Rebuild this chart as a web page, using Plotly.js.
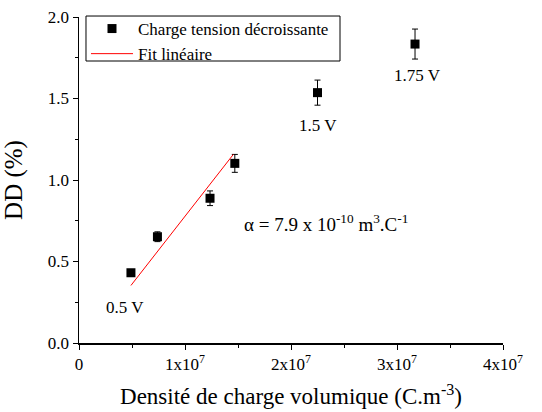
<!DOCTYPE html>
<html>
<head>
<meta charset="utf-8">
<script src="https://cdn.plot.ly/plotly-3.0.1.min.js"></script>
<style>html,body{margin:0;padding:0;background:#fff;}#chart{width:542px;height:412px;}</style>
</head>
<body>
<div id="chart"></div>
<script>
// Data
const densite = [4.9e6, 7.4e6, 1.236e7, 1.47e7, 2.25e7, 3.17e7];
const dd = [0.431, 0.652, 0.888, 1.102, 1.536, 1.834];
const ddErr = [0.012, 0.03, 0.045, 0.055, 0.077, 0.092];
const fitX = [4.9e6, 1.456e7];
const fitY = [0.353, 1.157];
const xTickVals = [0, 1e7, 2e7, 3e7, 4e7];
const xTickText = ['0', '1x10<sup>7</sup>', '2x10<sup>7</sup>', '3x10<sup>7</sup>', '4x10<sup>7</sup>'];
const yTickVals = [0, 0.5, 1.0, 1.5, 2.0];
const yTickText = ['0.0', '0.5', '1.0', '1.5', '2.0'];
const voltLabels = [
  {x: 4.9e6, y: 0.431, text: '0.5 V'},
  {x: 2.25e7, y: 1.536, text: '1.5 V'},
  {x: 3.17e7, y: 1.834, text: '1.75 V'}
];
const alphaText = 'α = 7.9 x 10<sup>-10</sup> m<sup>3</sup>.C<sup>-1</sup>';

const font = 'Liberation Serif';

const traces = [
  {
    x: densite, y: dd, type: 'scatter', mode: 'markers',
    name: 'Charge tension décroissante',
    marker: {symbol: 'square', size: 9, color: '#000'},
    error_y: {type: 'data', array: ddErr, visible: true, color: '#000', thickness: 1, width: 3}
  },
  {
    x: fitX, y: fitY, type: 'scatter', mode: 'lines',
    name: 'Fit linéaire',
    line: {color: '#ff0000', width: 1}
  }
];

const annotations = [
  {x: voltLabels[0].x, y: voltLabels[0].y, text: voltLabels[0].text, showarrow: false, xref: 'x', yref: 'y', xshift: -6, yshift: -35},
  {x: voltLabels[1].x, y: voltLabels[1].y, text: voltLabels[1].text, showarrow: false, xref: 'x', yref: 'y', xshift: 0, yshift: -33},
  {x: voltLabels[2].x, y: voltLabels[2].y, text: voltLabels[2].text, showarrow: false, xref: 'x', yref: 'y', xshift: 2, yshift: -31},
  {x: 2.33e7, y: 0.735, text: alphaText, showarrow: false, xref: 'x', yref: 'y', font: {family: font, size: 19, color: '#000'}}
].map(a => Object.assign({font: {family: font, size: 17, color: '#000'}}, a));

const layout = {
  width: 542, height: 412,
  margin: {l: 79, r: 39, t: 17, b: 69, pad: 0, autoexpand: false},
  paper_bgcolor: '#fff', plot_bgcolor: '#fff',
  font: {family: font, color: '#000', size: 17},
  showlegend: true,
  legend: {
    x: 0.0165, y: 1.0184, xanchor: 'left', yanchor: 'top',
    borderwidth: 0, bgcolor: 'rgba(0,0,0,0)',
    font: {family: font, size: 17, color: '#000'},
    tracegroupgap: 0, itemwidth: 42
  },
  shapes: [
    {type: 'rect', xref: 'paper', yref: 'paper', x0: 0.0165, x1: 0.6156, y0: 0.865, y1: 1.003,
     line: {color: '#000', width: 1}, fillcolor: 'rgba(0,0,0,0)', layer: 'above'}
  ],
  xaxis: {
    range: [0, 4e7], showgrid: false, zeroline: false, automargin: false,
    showline: true, linecolor: '#000', linewidth: 1.5,
    ticks: 'outside', ticklen: 5, tickwidth: 1, tickcolor: '#000',
    tickvals: xTickVals, ticktext: xTickText,
    tickfont: {family: font, size: 17, color: '#000'},
    minor: {dtick: 5e6, ticks: 'outside', ticklen: 3, tickwidth: 1, tickcolor: '#000'},
    title: {text: 'Densité de charge volumique (C.m<sup>-3</sup>)', font: {family: font, size: 23, color: '#000'}, standoff: 15}
  },
  yaxis: {
    range: [0, 2.0], showgrid: false, zeroline: false, automargin: false,
    showline: true, linecolor: '#000', linewidth: 1.5,
    ticks: 'outside', ticklen: 5, tickwidth: 1, tickcolor: '#000',
    tickvals: yTickVals, ticktext: yTickText,
    tickfont: {family: font, size: 17, color: '#000'},
    minor: {dtick: 0.25, ticks: 'outside', ticklen: 3, tickwidth: 1, tickcolor: '#000'},
    title: {text: 'DD (%)', font: {family: font, size: 25, color: '#000'}, standoff: 20}
  },
  annotations: annotations
};

Plotly.newPlot('chart', traces, layout, {displayModeBar: false, staticPlot: true});
</script>
</body>
</html>
